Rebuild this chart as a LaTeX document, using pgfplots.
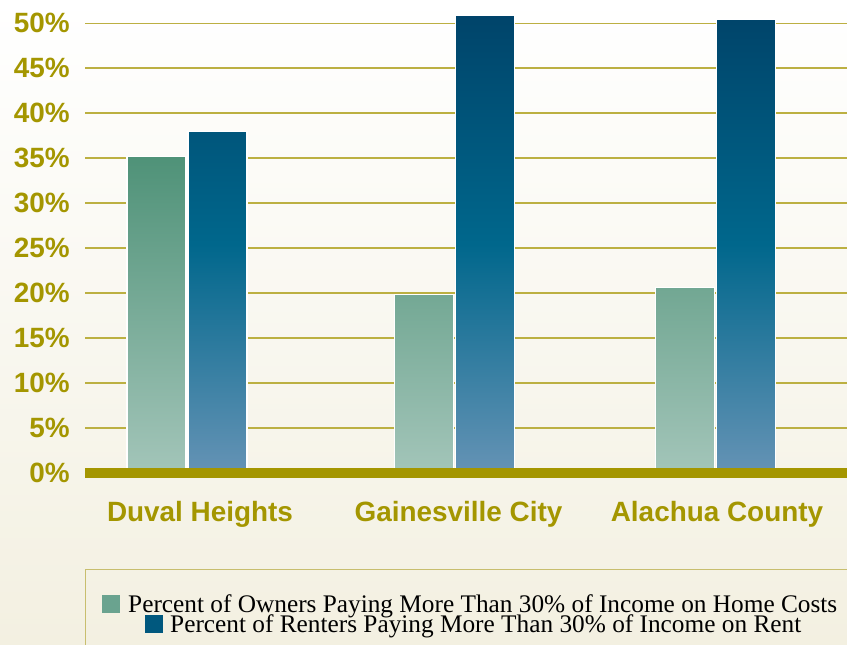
\documentclass[border=0pt]{standalone}
\usepackage{pgfplots}
\pgfplotsset{compat=1.18}
\usepackage{fontspec}
\setmainfont{Liberation Serif}
\newfontfamily\lsans{Liberation Sans}
\definecolor{olivetxt}{RGB}{164,150,0}
\definecolor{gridcol}{RGB}{188,176,66}
\definecolor{owntop}{RGB}{79,146,120}
\definecolor{ownbot}{RGB}{163,197,185}
\definecolor{rentop}{RGB}{0,68,106}
\definecolor{renmid}{RGB}{0,103,140}
\definecolor{renbot}{RGB}{101,147,181}
\definecolor{cream}{RGB}{243,240,225}
\definecolor{legbox}{RGB}{200,190,110}
\definecolor{ownleg}{RGB}{106,163,143}
\definecolor{renleg}{RGB}{0,88,126}
\begin{document}
\begin{tikzpicture}[x=1bp,y=1bp]
\useasboundingbox (0,0) rectangle (847,645);
\shade[top color=white, bottom color=cream] (0,0) rectangle (847,645);
\begin{axis}[
  at={(85,191.5)}, anchor=south west,
  scale only axis, width=762bp, height=449.5bp,
  xmin=85, xmax=847, ymin=0, ymax=50, clip=false,
  ybar=2bp, bar width=59bp,
  axis lines*=left, axis line style={draw=none},
  xtick style={draw=none}, ytick style={draw=none},
  ytick={0,5,...,50},
  yticklabels={0\%,5\%,10\%,15\%,20\%,25\%,30\%,35\%,40\%,45\%,50\%},
  yticklabel style={font=\lsans\bfseries\fontsize{28}{28}\selectfont, text=olivetxt, anchor=east, inner sep=0pt, xshift=-15bp},
  xtick={200,458.5,717},
  xticklabels={Duval Heights,Gainesville City,Alachua County},
  xticklabel style={font=\lsans\bfseries\fontsize{28}{28}\selectfont, text=olivetxt, anchor=north, inner sep=0pt, yshift=-24bp},
  ymajorgrids, major grid style={gridcol, line width=1.6bp},
]
\addplot[draw=white, line width=1.2bp, top color=owntop, bottom color=ownbot]
  coordinates {(187,35.2) (454.5,19.8) (715.5,20.6)};
\addplot[draw=white, line width=1.2bp, top color=rentop, bottom color=renbot, middle color=renmid]
  coordinates {(187,38.0) (454.5,50.9) (715.5,50.4)};
\draw[olivetxt, line width=10bp] (axis cs:85,0) -- (axis cs:847,0);
\end{axis}
\draw[legbox, line width=1bp] (85.5,-10) rectangle (870,75);
\node[anchor=base west, inner sep=0pt] at (102,32.3)
  {\fontsize{25.4}{25}\selectfont\textcolor{ownleg}{\rule{18bp}{18bp}}\hspace{8bp}Percent of Owners Paying More Than 30\% of Income on Home Costs};
\node[anchor=base west, inner sep=0pt] at (145,12.3)
  {\fontsize{25.4}{25}\selectfont\textcolor{renleg}{\rule{18bp}{18bp}}\hspace{7bp}Percent of Renters Paying More Than 30\% of Income on Rent};
\end{tikzpicture}
\end{document}
